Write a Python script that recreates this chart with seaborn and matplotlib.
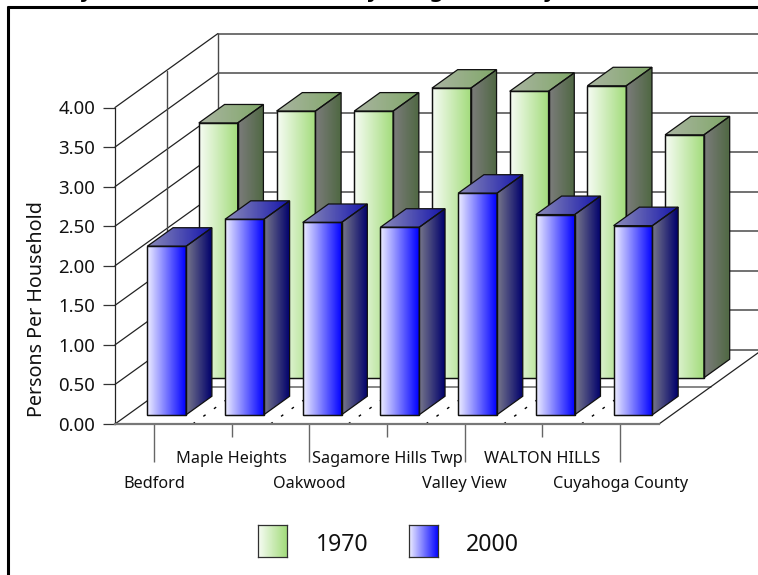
import numpy as np
import pandas as pd
import matplotlib
matplotlib.use("Agg")
import matplotlib.pyplot as plt
from matplotlib.colors import LinearSegmentedColormap
from matplotlib.lines import Line2D
from matplotlib.patches import Polygon
import seaborn as sns

# Persons per household by community
communities = ["Bedford", "Maple Heights", "Oakwood", "Sagamore Hills Twp",
               "Valley View", "WALTON HILLS", "Cuyahoga County"]
persons_1970 = [3.22, 3.37, 3.37, 3.66, 3.62, 3.69, 3.07]
persons_2000 = [2.13, 2.47, 2.43, 2.37, 2.80, 2.53, 2.39]
y_ticks = [0, 0.5, 1, 1.5, 2, 2.5, 3, 3.5, 4]
title_words = ["Family", "Household Community", "Age", "County"]

W, H = 758, 575
FONT = "Noto Sans"

sns.set_theme(style="white")
plt.rcParams["font.family"] = [FONT, "DejaVu Sans"]
plt.rcParams["axes.unicode_minus"] = False

fig = plt.figure(figsize=(W / 100, H / 100), dpi=100, facecolor="white")
left, right, top, bottom = 115, 659, 107.5, 424
ax = fig.add_axes([left / W, 1 - bottom / H, (right - left) / W, (bottom - top) / H])
ax.patch.set_alpha(0)

# Oblique depth expressed in data units: full floor depth is 103 px across, 74 px up
DX = 103 / ((right - left) / 7)
DY = 74 / ((bottom - top) / 4)


def proj(x, v, d):
    return x + d * DX, v + d * DY


def ramp(c0, c1):
    return LinearSegmentedColormap.from_list("r", [c0, c1])


def gradient_face(verts, c0, c1, z):
    xs = [p[0] for p in verts]
    ys = [p[1] for p in verts]
    g = np.linspace(0, 1, 128).reshape(1, -1)
    im = ax.imshow(g, cmap=ramp(c0, c1), vmin=0, vmax=1, aspect="auto",
                   extent=(min(xs), max(xs), min(ys), max(ys)),
                   interpolation="bilinear", zorder=z)
    im.set_clip_box(fig.bbox)
    im.set_clip_path(Polygon(verts, closed=True, transform=ax.transData))
    ax.add_patch(Polygon(verts, closed=True, fill=False, edgecolor="#101010",
                         linewidth=0.9, zorder=z + 0.1, clip_on=False))


def draw_series(values, d0, d1, palette, z):
    n_before = len(ax.patches)
    sns.barplot(x=pd.Categorical(communities, categories=communities), y=values,
                ax=ax, width=0.5, color=palette["front"][1], saturation=1,
                legend=False, errorbar=None)
    for i, bar in enumerate(ax.patches[n_before:n_before + len(values)]):
        x0, w, v = bar.get_x(), bar.get_width(), bar.get_height()
        sx, sy = proj(x0, 0, d0)
        bar.set_x(sx)
        bar.set_y(sy)
        bar.set_facecolor("none")
        bar.set_edgecolor("#101010")
        bar.set_linewidth(0.9)
        bar.set_clip_on(False)
        bar.set_zorder(z + 0.3)
        xl, xr = sx, sx + w
        base = sy
        peak = sy + v
        depth = d1 - d0
        front = [(xl, base), (xr, base), (xr, peak), (xl, peak)]
        side = [(xr, base), (xr + depth * DX, base + depth * DY),
                (xr + depth * DX, peak + depth * DY), (xr, peak)]
        lid = [(xl, peak), (xr, peak), (xr + depth * DX, peak + depth * DY),
               (xl + depth * DX, peak + depth * DY)]
        gradient_face(front, *palette["front"], z)
        gradient_face(side, *palette["side"], z)
        gradient_face(lid, *palette["top"], z)


# Walls and floor
GRID = "#4a4a4a"
XMIN, XMAX = -0.5, 6.5
for v in y_ticks:
    a, b = proj(XMIN, v, 0), proj(XMIN, v, 1)
    ax.plot([a[0], b[0]], [a[1], b[1]], color="#222222", lw=0.9, clip_on=False, zorder=1)
    a, b = proj(XMIN, v, 1), proj(XMAX, v, 1)
    ax.plot([a[0], b[0]], [a[1], b[1]], color=GRID, lw=1.1, clip_on=False, zorder=1)
for d in (0.5, 1):
    a, b = proj(XMIN, 0, d), proj(XMIN, 4, d)
    ax.plot([a[0], b[0]], [a[1], b[1]], color=GRID, lw=1.0, clip_on=False, zorder=1)
a, b = proj(XMIN, 0, 0.5), proj(XMAX, 0, 0.5)
ax.plot([a[0], b[0]], [a[1], b[1]], color="#666666", lw=1.1, clip_on=False, zorder=1)
a, b = proj(XMAX, 0, 0), proj(XMAX, 0, 1)
ax.plot([a[0], b[0]], [a[1], b[1]], color="#222222", lw=0.9, clip_on=False, zorder=1)
for i in range(1, 7):
    a, b = proj(XMIN + i, 0, 0), proj(XMIN + i, 0, 0.5)
    ax.plot([a[0], b[0]], [a[1], b[1]], color="black", lw=1.0, clip_on=False, zorder=1,
            linestyle=(0, (2.0, 7.4)))

GREEN = {"front": ("#f7fcf4", "#a3dc7c"), "side": ("#7c7c7c", "#4f6842"),
         "top": ("#aab4a2", "#80a868")}
BLUE = {"front": ("#eeeeff", "#0000ff"), "side": ("#78788a", "#00006c"),
        "top": ("#8c8cb8", "#1414ac")}
draw_series(persons_1970, 0.625, 0.875, GREEN, 3)
draw_series(persons_2000, 0.125, 0.375, BLUE, 4)

ax.set_xlim(XMIN, XMAX)
ax.set_ylim(0, 4)
ax.set_xlabel("")
ax.set_ylabel("Persons Per Household", fontsize=14.2, color="#111111")
ax.yaxis.set_label_coords((47 - left) / (right - left), (bottom - 309) / (bottom - top))
ax.set_yticks(y_ticks)
ax.set_yticklabels([f"{v:.2f}" for v in y_ticks], fontsize=13.4, color="#111111")
ax.tick_params(axis="y", length=8.6, width=0.9, color="#333333", pad=5.5, left=True)
ax.set_xticks(range(len(communities)))
ax.set_xticklabels(communities, fontsize=11.7, color="#111111")
ax.tick_params(axis="x", width=1.0, color="#666666", bottom=True)

# Category labels sit on two staggered rows with matching tick lengths
for i, tick in enumerate(ax.xaxis.get_major_ticks()):
    tick.set_pad(31.7 if i % 2 == 0 else 13.7)
    tick.tick1line.set_markersize(27.5 if i % 2 == 0 else 9)

for name, s in ax.spines.items():
    s.set_visible(name in ("left", "bottom"))
ax.spines["left"].set_color("#222222")
ax.spines["left"].set_linewidth(0.9)
ax.spines["bottom"].set_color("#777777")
ax.spines["bottom"].set_linewidth(1.6)
ax.spines["bottom"].set_bounds(XMIN, XMAX)

# Legend swatches and labels
for year, px, pal, tx in (("1970", 258, GREEN, 316), ("2000", 409, BLUE, 466)):
    sw = fig.add_axes([px / W, 1 - 557 / H, 29 / W, 32 / H])
    sw.imshow(np.linspace(0, 1, 64).reshape(1, -1), cmap=ramp(*pal["front"]), aspect="auto",
              interpolation="bilinear")
    sw.set_xticks([])
    sw.set_yticks([])
    for s in sw.spines.values():
        s.set_color("#303030")
        s.set_linewidth(0.9)
    fig.text(tx / W, 1 - 545 / H, year, fontsize=16.6, color="#111111", va="center", ha="left")

# Heavy frame along the top and left, and the title above it
fig.add_artist(Line2D([6.5 / W, 1], [1 - 7.3 / H, 1 - 7.3 / H], color="black", lw=2.2,
                      solid_capstyle="butt"))
fig.add_artist(Line2D([8.2 / W, 8.2 / W], [0, 1 - 6 / H], color="black", lw=2.2,
                      solid_capstyle="butt"))
for word, end_px in zip(title_words, (93, 380, 459.5, 556)):
    fig.text(end_px / W, 1 + 2.0 / H, word, fontsize=15, fontweight="bold", color="black",
             va="baseline", ha="right", family="DejaVu Sans")

fig.savefig("out.png", dpi=100)
